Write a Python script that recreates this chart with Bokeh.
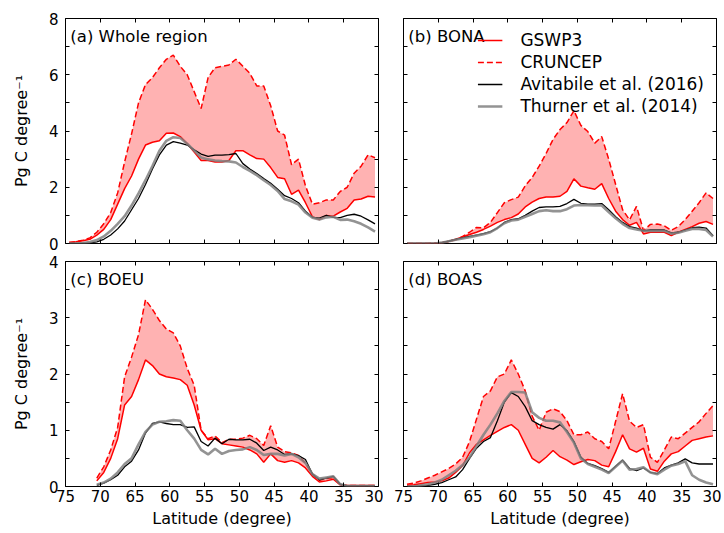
from bokeh.plotting import figure
from bokeh.models import (Range1d, LinearAxis, FixedTicker, Legend, LegendItem,
                          Label, CustomJSTickFormatter)
from bokeh.layouts import column, row
from bokeh.embed import file_html
from bokeh.resources import INLINE

# ---------------- data ----------------
LAT = [74.5, 73.5, 72.5, 71.5, 70.5, 69.5, 68.5, 67.5, 66.5, 65.5,
       64.5, 63.5, 62.5, 61.5, 60.5, 59.5, 58.5, 57.5, 56.5, 55.5,
       54.5, 53.5, 52.5, 51.5, 50.5, 49.5, 48.5, 47.5, 46.5, 45.5,
       44.5, 43.5, 42.5, 41.5, 40.5, 39.5, 38.5, 37.5, 36.5, 35.5,
       34.5, 33.5, 32.5, 31.5, 30.5]
LAT_C = LAT[4:]   # BOEU has data from 70.5 onward

XTICKS = [75, 70, 65, 60, 55, 50, 45, 40, 35, 30]

# (a) Whole region
GSW_A = [0.04,0.06,0.10,0.15,0.30,0.50,0.85,1.40,1.95,2.40,3.00,3.50,3.60,3.65,3.92,3.93,3.80,3.55,3.25,2.95,2.95,2.90,2.90,2.95,3.30,3.30,3.15,3.02,3.00,2.70,2.35,2.30,1.75,1.90,1.45,0.95,0.85,1.00,0.97,1.12,1.25,1.55,1.58,1.68,1.65]
CRU_A = [0.04,0.06,0.12,0.20,0.40,0.70,1.10,1.80,2.90,3.90,5.00,5.65,5.90,6.25,6.55,6.70,6.30,6.00,5.40,4.80,5.90,6.25,6.30,6.35,6.55,6.30,6.05,5.60,5.60,4.90,4.00,3.85,2.80,3.00,2.05,1.40,1.45,1.55,1.55,1.85,2.00,2.50,2.75,3.15,3.05]
AVI_A = [0.00,0.00,0.01,0.02,0.06,0.15,0.30,0.52,0.80,1.20,1.60,2.10,2.65,3.15,3.50,3.62,3.57,3.50,3.33,3.18,3.10,3.14,3.14,3.16,3.20,2.84,2.65,2.49,2.31,2.14,1.93,1.70,1.60,1.45,1.15,0.93,0.90,1.00,0.93,0.92,1.00,1.04,0.97,0.84,0.70]
THU_A = [0.00,0.00,0.02,0.05,0.12,0.25,0.45,0.70,0.97,1.35,1.78,2.25,2.75,3.30,3.65,3.78,3.75,3.55,3.30,3.06,2.99,2.95,2.93,2.92,2.88,2.72,2.58,2.43,2.25,2.08,1.87,1.58,1.50,1.38,1.10,0.92,0.85,0.93,0.95,0.84,0.85,0.79,0.70,0.57,0.42]

# (b) BONA
GSW_B = [0.00,0.00,0.00,0.00,0.01,0.03,0.08,0.15,0.23,0.32,0.40,0.50,0.62,0.75,0.85,0.92,1.05,1.30,1.47,1.60,1.65,1.65,1.68,1.85,2.30,2.04,1.98,1.93,2.13,1.60,1.15,0.85,0.65,0.75,0.34,0.40,0.40,0.40,0.28,0.40,0.50,0.60,0.72,0.78,0.68]
CRU_B = [0.00,0.00,0.00,0.00,0.01,0.03,0.07,0.13,0.25,0.40,0.57,0.56,0.75,1.10,1.45,1.56,1.65,2.05,2.35,2.75,3.20,3.70,4.05,4.30,4.72,4.20,3.98,3.57,3.80,3.00,2.10,1.20,0.84,1.32,0.46,0.68,0.69,0.63,0.47,0.60,0.85,1.15,1.45,1.80,1.60]
AVI_B = [0.00,0.00,0.00,0.00,0.00,0.03,0.08,0.15,0.20,0.25,0.30,0.35,0.42,0.55,0.75,0.85,0.88,1.00,1.15,1.28,1.30,1.30,1.32,1.42,1.57,1.43,1.40,1.40,1.42,1.20,0.95,0.75,0.60,0.55,0.45,0.48,0.48,0.48,0.38,0.40,0.48,0.56,0.58,0.55,0.28]
THU_B = [0.00,0.00,0.00,0.00,0.00,0.03,0.08,0.13,0.18,0.22,0.28,0.33,0.40,0.55,0.72,0.82,0.85,0.95,1.05,1.15,1.18,1.15,1.15,1.22,1.35,1.37,1.36,1.35,1.35,1.12,0.90,0.70,0.55,0.50,0.45,0.45,0.45,0.45,0.35,0.38,0.45,0.52,0.52,0.48,0.25]

# (c) BOEU (from 70.5)
GSW_C = [0.10,0.25,0.50,0.85,1.45,1.60,1.90,2.25,2.15,2.00,1.95,1.93,1.90,1.80,1.45,1.00,0.83,0.85,0.76,0.74,0.72,0.70,0.65,0.58,0.43,0.58,0.46,0.43,0.46,0.42,0.33,0.18,0.08,0.10,0.13,0.03,0.02,0.02,0.02,0.02,0.02]
CRU_C = [0.15,0.35,0.65,1.05,1.95,2.30,2.70,3.32,3.15,2.95,2.80,2.73,2.50,2.10,1.80,1.00,0.85,0.90,0.78,0.84,0.84,0.86,0.91,0.85,0.73,1.08,0.70,0.62,0.60,0.55,0.42,0.22,0.11,0.14,0.16,0.03,0.02,0.02,0.02,0.02,0.02]
AVI_C = [0.02,0.06,0.12,0.20,0.35,0.45,0.65,0.95,1.12,1.15,1.12,1.10,1.10,1.05,1.06,0.80,0.72,0.86,0.76,0.84,0.83,0.83,0.84,0.77,0.64,0.70,0.65,0.57,0.58,0.55,0.48,0.22,0.12,0.15,0.18,0.04,0.01,0.01,0.01,0.01,0.01]
THU_C = [0.03,0.07,0.14,0.25,0.40,0.50,0.75,0.97,1.10,1.15,1.16,1.18,1.17,1.00,0.85,0.65,0.57,0.67,0.58,0.63,0.65,0.66,0.70,0.65,0.56,0.58,0.58,0.55,0.58,0.52,0.42,0.22,0.14,0.16,0.18,0.04,0.01,0.01,0.01,0.01,0.01]

# (d) BOAS
GSW_D = [0.02,0.03,0.05,0.07,0.08,0.10,0.15,0.25,0.37,0.60,0.75,0.83,0.91,0.98,1.05,1.10,1.00,0.75,0.50,0.42,0.52,0.64,0.53,0.47,0.39,0.44,0.48,0.46,0.38,0.35,0.62,0.92,0.67,0.61,0.68,0.31,0.27,0.45,0.58,0.62,0.72,0.82,0.85,0.88,0.90]
CRU_D = [0.04,0.06,0.10,0.15,0.20,0.26,0.32,0.40,0.52,0.80,1.20,1.60,1.70,1.95,2.00,2.25,2.00,1.70,1.25,1.00,1.32,1.38,1.33,1.17,0.92,0.92,0.97,0.85,0.80,0.67,1.16,1.65,1.16,1.05,1.10,0.52,0.43,0.65,0.88,0.85,0.95,1.05,1.15,1.30,1.44]
AVI_D = [0.00,0.00,0.01,0.02,0.04,0.07,0.12,0.17,0.30,0.50,0.68,0.80,0.87,1.17,1.50,1.67,1.60,1.42,1.17,1.10,1.05,1.02,1.10,0.99,0.80,0.52,0.41,0.37,0.32,0.25,0.36,0.47,0.32,0.28,0.33,0.25,0.23,0.33,0.38,0.42,0.49,0.42,0.40,0.40,0.40]
THU_D = [0.00,0.00,0.02,0.04,0.07,0.12,0.20,0.28,0.38,0.52,0.72,0.92,1.10,1.30,1.52,1.68,1.68,1.67,1.32,1.22,1.17,1.17,1.14,0.97,0.78,0.50,0.40,0.35,0.30,0.24,0.35,0.46,0.30,0.31,0.34,0.25,0.22,0.30,0.37,0.40,0.45,0.20,0.12,0.07,0.04]

SERIES = ["GSWP3", "CRUNCEP", "Avitabile et al. (2016)", "Thurner et al. (2014)"]
YLABEL = "Pg C degree\u207b\u00b9"
XLABEL = "Latitude (degree)"

FONT = "DejaVu Sans"


def style_axis(ax, ticker, labels, standoff=7):
    ax.ticker = ticker
    ax.axis_line_color = None
    ax.major_tick_in = 4
    ax.major_tick_out = 0
    ax.minor_tick_in = 4
    ax.minor_tick_out = 0
    ax.major_tick_line_color = "black"
    ax.minor_tick_line_color = "black"
    if labels:
        ax.major_label_text_font = FONT
        ax.major_label_text_font_size = "15px"
        ax.major_label_text_color = "black"
        ax.major_label_standoff = standoff
    else:
        ax.formatter = CustomJSTickFormatter(code="return ''")
        ax.major_label_text_font_size = "0px"
        ax.major_label_standoff = 0


def panel(title, ymax, ymajor, yminor, lat, gsw, cru, avi, thu,
          show_x, show_y, w, h, bl, br, bt, bb):
    p = figure(width=w, height=h, x_range=Range1d(75, 30), y_range=Range1d(0, ymax),
               output_backend="svg", toolbar_location=None,
               min_border_left=bl, min_border_right=br,
               min_border_top=bt, min_border_bottom=bb)
    p.grid.visible = False
    p.outline_line_color = "black"
    p.outline_line_width = 1
    p.background_fill_color = "white"
    p.border_fill_color = "white"

    p.varea(x=lat, y1=gsw, y2=cru, fill_color="#ff0000", fill_alpha=0.3)
    r_g = p.line(lat, gsw, line_color="#ff0000", line_width=1.5)
    r_c = p.line(lat, cru, line_color="#ff0000", line_width=1.5, line_dash="6 3")
    r_a = p.line(lat, avi, line_color="black", line_width=1.3)
    r_t = p.line(lat, thu, line_color="#808080", line_width=2.6, line_alpha=0.85)

    xb = p.below[0]
    yl = p.left[0]
    style_axis(xb, FixedTicker(ticks=XTICKS), show_x, standoff=3)
    style_axis(yl, FixedTicker(ticks=ymajor, minor_ticks=yminor), show_y, standoff=7)
    top = LinearAxis()
    right = LinearAxis()
    style_axis(top, FixedTicker(ticks=XTICKS), False)
    style_axis(right, FixedTicker(ticks=ymajor, minor_ticks=yminor), False)
    p.add_layout(top, "above")
    p.add_layout(right, "right")

    if show_x:
        xb.axis_label = XLABEL
        xb.axis_label_text_font = FONT
        xb.axis_label_text_font_size = "16px"
        xb.axis_label_text_font_style = "normal"
        xb.axis_label_text_color = "black"
        xb.axis_label_standoff = 4
    if show_y:
        yl.axis_label = YLABEL
        yl.axis_label_text_font = FONT
        yl.axis_label_text_font_size = "16px"
        yl.axis_label_text_font_style = "normal"
        yl.axis_label_text_color = "black"
        yl.axis_label_standoff = 15

    p.add_layout(Label(x=74.3, y=ymax * (1 - 0.036), text=title, text_baseline="top",
                       text_align="left", text_font=FONT, text_font_size="16.5px",
                       text_color="black"))
    return p, (r_g, r_c, r_a, r_t)


pa, _ = panel("(a) Whole region", 8, [0, 2, 4, 6, 8], [1, 3, 5, 7], LAT,
              GSW_A, CRU_A, AVI_A, THU_A, False, True, 383, 252, 65, 5, 18, 9)
pb, rb = panel("(b) BONA", 8, [0, 2, 4, 6, 8], [1, 3, 5, 7], LAT,
               GSW_B, CRU_B, AVI_B, THU_B, False, False, 338, 252, 20, 5, 18, 9)
pc, _ = panel("(c) BOEU", 4, [0, 1, 2, 3, 4], [0.5, 1.5, 2.5, 3.5], LAT_C,
              GSW_C, CRU_C, AVI_C, THU_C, True, True, 383, 281, 65, 5, 9, 47)
pd, _ = panel("(d) BOAS", 4, [0, 1, 2, 3, 4], [0.5, 1.5, 2.5, 3.5], LAT,
              GSW_D, CRU_D, AVI_D, THU_D, True, False, 338, 281, 20, 5, 9, 47)

legend = Legend(items=[LegendItem(label=s, renderers=[r]) for s, r in zip(SERIES, rb)],
                location="top_right")
legend.border_line_color = None
legend.background_fill_alpha = 0
legend.label_text_font = FONT
legend.label_text_font_size = "17px"
legend.label_text_color = "black"
legend.glyph_width = 25
legend.glyph_height = 20
legend.label_height = 20
legend.label_standoff = 18
legend.spacing = 2
legend.padding = 4
legend.margin = 12
pb.add_layout(legend)

layout = column(row(pa, pb), row(pc, pd))

open("out.html", "w").write(file_html(layout, INLINE))
